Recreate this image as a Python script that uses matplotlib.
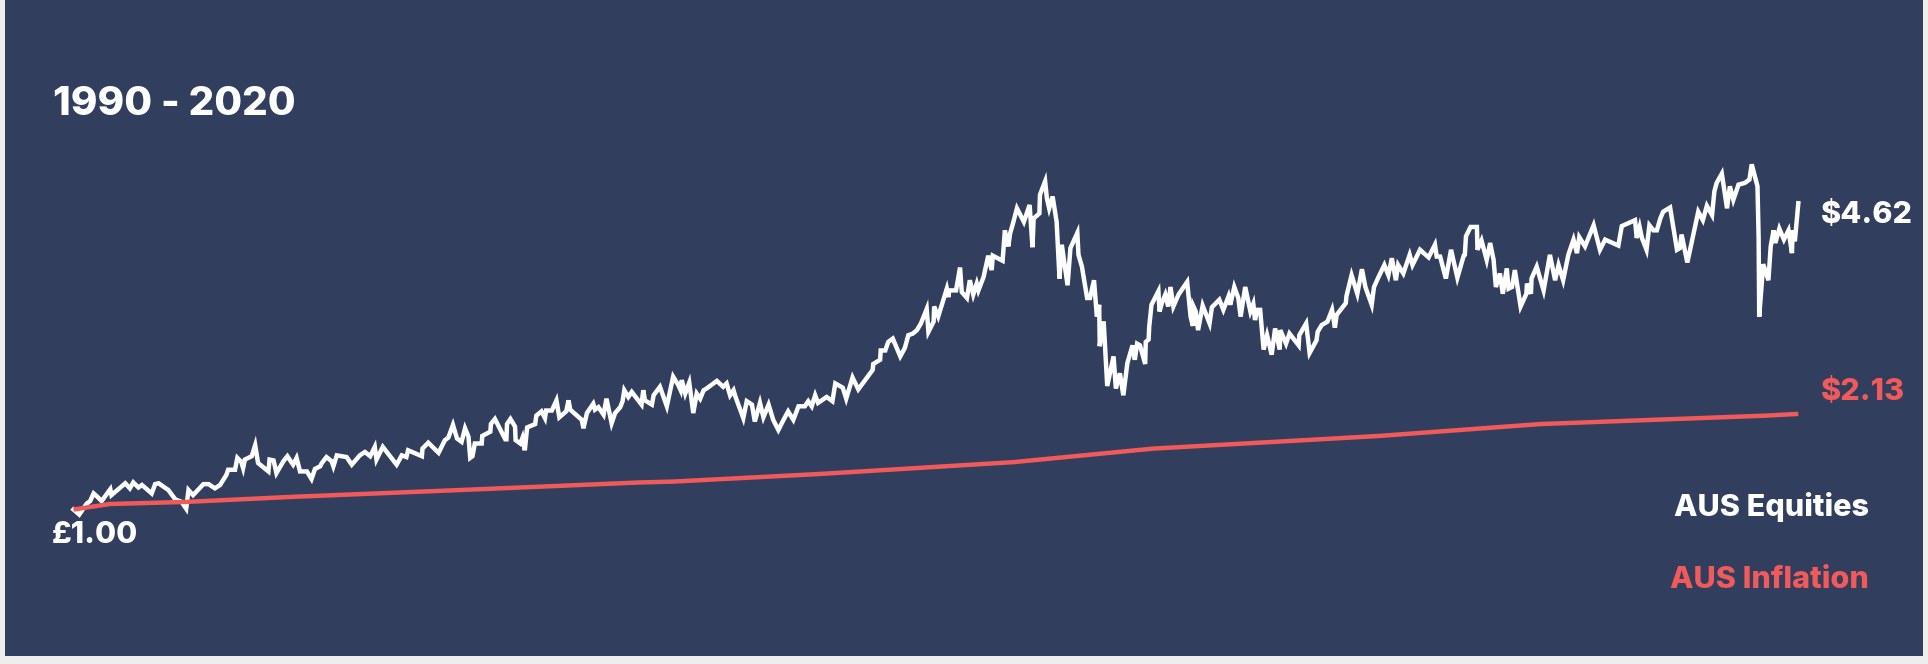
import matplotlib
matplotlib.use("Agg")
import matplotlib.pyplot as plt
from matplotlib.patches import Rectangle

# ---------------- data ----------------
title_text = "1990 - 2020"
start_label = "£1.00"
equity_end_label = "$4.62"
inflation_end_label = "$2.13"
series_names = ["AUS Equities", "AUS Inflation"]

eq_years_a = [1990.00, 1990.10, 1990.23, 1990.29, 1990.35, 1990.40, 1990.49, 1990.64, 1990.66, 1990.90,
              1990.98, 1991.04, 1991.13, 1991.19, 1991.36, 1991.42, 1991.48, 1991.65, 1991.77, 1991.88,
              1991.96, 1992.00, 1992.08, 1992.26, 1992.35, 1992.46, 1992.55, 1992.66, 1992.69, 1992.81,
              1992.85, 1992.92, 1992.95, 1992.98, 1993.10, 1993.16, 1993.19, 1993.21, 1993.39, 1993.41,
              1993.48, 1993.53, 1993.65, 1993.72, 1993.82, 1993.88, 1993.94, 1994.06, 1994.14, 1994.20,
              1994.29, 1994.32, 1994.40, 1994.49, 1994.52, 1994.58, 1994.75, 1994.84, 1994.98, 1995.07,
              1995.16, 1995.24, 1995.27, 1995.38, 1995.62, 1995.71, 1995.79, 1995.82, 1996.06, 1996.07,
              1996.17, 1996.35]
eq_vals_a = [1.00, 0.94, 1.07, 1.10, 1.19, 1.16, 1.10, 1.24, 1.17, 1.31,
             1.25, 1.32, 1.26, 1.29, 1.19, 1.30, 1.31, 1.23, 1.12, 1.09,
             1.01, 1.23, 1.17, 1.30, 1.30, 1.25, 1.29, 1.41, 1.47, 1.47,
             1.61, 1.56, 1.49, 1.59, 1.63, 1.76, 1.63, 1.55, 1.45, 1.59,
             1.58, 1.43, 1.57, 1.63, 1.53, 1.61, 1.45, 1.45, 1.36, 1.48,
             1.51, 1.55, 1.62, 1.57, 1.51, 1.64, 1.62, 1.53, 1.64, 1.68,
             1.63, 1.74, 1.59, 1.74, 1.53, 1.64, 1.62, 1.70, 1.63, 1.72,
             1.79, 1.67]

eq_years_b = [1996.46, 1996.52, 1996.60, 1996.67, 1996.75, 1996.81, 1996.87, 1996.90, 1996.94, 1996.98,
              1997.10, 1997.11, 1997.25, 1997.26, 1997.33, 1997.51, 1997.53, 1997.54, 1997.60, 1997.68,
              1997.69, 1997.77, 1997.81, 1997.85, 1997.89, 1998.03, 1998.05, 1998.14, 1998.20, 1998.22,
              1998.32, 1998.40, 1998.45, 1998.57, 1998.61, 1998.64, 1998.84, 1998.87, 1998.93, 1999.04,
              1999.07, 1999.13, 1999.22, 1999.27, 1999.36, 1999.42, 1999.51, 1999.55, 1999.58, 1999.65,
              1999.71, 1999.88, 1999.91, 1999.94, 2000.06, 2000.09, 2000.20, 2000.32, 2000.43, 2000.52,
              2000.56, 2000.58, 2000.64, 2000.71, 2000.78, 2000.84, 2000.90, 2000.96, 2001.01, 2001.19,
              2001.30, 2001.36, 2001.42, 2001.48, 2001.51, 2001.65, 2001.71, 2001.80, 2001.85, 2001.94,
              2002.00, 2002.09, 2002.17, 2002.26, 2002.35, 2002.43, 2002.52, 2002.61, 2002.72, 2002.78,
              2002.84, 2002.90, 2002.95, 2003.10, 2003.20]
eq_vals_b = [1.82, 1.85, 2.00, 1.84, 1.80, 1.96, 1.86, 1.61, 1.63, 1.78,
             1.78, 1.87, 1.92, 2.01, 2.07, 1.83, 1.83, 2.01, 2.07, 1.98,
             1.82, 1.78, 1.85, 1.70, 1.97, 2.01, 2.11, 2.16, 2.08, 2.17,
             2.17, 2.29, 2.09, 2.16, 2.29, 2.18, 2.06, 1.96, 2.14, 2.25,
             2.18, 2.21, 2.12, 2.31, 2.02, 2.14, 2.21, 2.28, 2.41, 2.33,
             2.39, 2.24, 2.41, 2.29, 2.24, 2.35, 2.45, 2.22, 2.57, 2.47,
             2.41, 2.53, 2.37, 2.50, 2.14, 2.37, 2.31, 2.41, 2.43, 2.52,
             2.45, 2.49, 2.35, 2.41, 2.34, 2.08, 2.28, 2.24, 2.04, 2.26,
             2.09, 2.24, 2.06, 1.94, 2.06, 2.16, 2.06, 2.22, 2.22, 2.28,
             2.22, 2.35, 2.26, 2.33, 2.28]

eq_years_c = [2003.25, 2003.38, 2003.44, 2003.55, 2003.65, 2003.90, 2003.91, 2004.03, 2004.04, 2004.12,
              2004.17, 2004.25, 2004.38, 2004.46, 2004.52, 2004.60, 2004.67, 2004.74, 2004.84, 2004.87,
              2004.96, 2004.97, 2005.04, 2005.19, 2005.22, 2005.23, 2005.35, 2005.42, 2005.45, 2005.54,
              2005.59, 2005.65, 2005.71, 2005.74, 2005.83, 2005.91, 2005.97, 2005.99, 2006.16, 2006.20,
              2006.23, 2006.26, 2006.29, 2006.34, 2006.41, 2006.53, 2006.63, 2006.68, 2006.70, 2006.80,
              2006.81, 2006.90, 2006.93, 2006.97, 2007.03, 2007.10, 2007.15, 2007.19, 2007.29, 2007.34,
              2007.46, 2007.48, 2007.54, 2007.63, 2007.68, 2007.75, 2007.80, 2007.84, 2007.85, 2007.90,
              2007.92, 2007.98, 2008.09, 2008.13, 2008.20, 2008.26, 2008.33, 2008.42, 2008.46, 2008.50,
              2008.55, 2008.64, 2008.65, 2008.70, 2008.71, 2008.75, 2008.87, 2008.89, 2008.93, 2008.99,
              2009.04, 2009.08, 2009.13, 2009.22, 2009.37, 2009.43, 2009.47, 2009.48, 2009.52, 2009.56,
              2009.64, 2009.76, 2009.80, 2009.93]
eq_vals_c = [2.49, 2.44, 2.31, 2.56, 2.42, 2.65, 2.72, 2.77, 2.88, 2.88,
             2.98, 3.02, 2.81, 2.91, 3.06, 3.08, 3.12, 3.20, 3.37, 3.10,
             3.22, 3.40, 3.28, 3.61, 3.51, 3.59, 3.59, 3.86, 3.57, 3.50,
             3.71, 3.54, 3.67, 3.59, 3.75, 4.00, 3.83, 4.00, 3.94, 4.30,
             4.19, 4.11, 4.26, 4.38, 4.56, 4.40, 4.60, 4.10, 4.44, 4.50,
             4.72, 4.88, 4.68, 4.56, 4.70, 4.40, 3.73, 4.13, 3.65, 4.09,
             4.27, 4.01, 3.87, 3.50, 3.50, 3.71, 3.28, 3.42, 2.93, 3.20,
             3.20, 2.46, 2.81, 2.43, 2.61, 2.35, 2.73, 2.94, 2.77, 2.96,
             2.94, 2.72, 2.98, 3.01, 3.16, 3.42, 3.58, 3.34, 3.44, 3.54,
             3.40, 3.63, 3.40, 3.54, 3.69, 3.28, 3.17, 3.40, 3.34, 3.12,
             3.41, 3.20, 3.39, 3.48]

eq_years_d = [2010.00, 2010.09, 2010.12, 2010.19, 2010.26, 2010.30, 2010.38, 2010.47, 2010.52, 2010.55,
              2010.59, 2010.64, 2010.70, 2010.76, 2010.84, 2010.90, 2010.98, 2010.99, 2011.09, 2011.15,
              2011.31, 2011.32, 2011.44, 2011.50, 2011.62, 2011.64, 2011.71, 2011.81, 2011.89, 2011.94,
              2011.97, 2012.13, 2012.14, 2012.23, 2012.33, 2012.41, 2012.47, 2012.58, 2012.62, 2012.70,
              2012.80, 2012.87, 2012.93, 2013.00, 2013.04, 2013.13, 2013.24, 2013.29, 2013.42, 2013.57,
              2013.68, 2013.71, 2013.77, 2013.87, 2013.96, 2014.07, 2014.18, 2014.20, 2014.22, 2014.30,
              2014.41, 2014.42, 2014.49, 2014.58, 2014.64, 2014.70, 2014.74, 2014.81, 2014.86, 2014.93,
              2014.96, 2015.02, 2015.07, 2015.17, 2015.27, 2015.28, 2015.35, 2015.36, 2015.45, 2015.57,
              2015.68, 2015.77, 2015.83, 2015.91]
eq_vals_d = [3.36, 3.52, 3.42, 3.63, 3.50, 3.28, 3.63, 3.34, 3.43, 3.24,
             3.36, 3.36, 2.89, 3.06, 2.83, 3.14, 2.89, 3.12, 2.96, 3.08,
             2.94, 3.06, 3.20, 2.85, 3.00, 3.10, 3.18, 3.22, 3.36, 3.15,
             3.30, 3.44, 3.52, 3.77, 3.55, 3.84, 3.63, 3.42, 3.63, 3.75,
             3.89, 3.77, 3.97, 3.71, 3.89, 3.79, 4.01, 3.89, 4.07, 3.98,
             4.13, 3.99, 3.99, 3.73, 4.07, 3.74, 4.00, 4.01, 4.23, 4.34,
             4.34, 4.07, 4.18, 3.95, 4.15, 3.95, 3.63, 3.79, 3.55, 3.85,
             3.61, 3.63, 3.83, 3.40, 3.55, 3.67, 3.55, 3.73, 3.87, 3.59,
             4.01, 3.71, 3.89, 3.71]

eq_years_e = [2016.00, 2016.09, 2016.15, 2016.19, 2016.29, 2016.44, 2016.55, 2016.64, 2016.87, 2016.93,
              2017.16, 2017.19, 2017.24, 2017.28, 2017.36, 2017.41, 2017.48, 2017.54, 2017.60, 2017.65,
              2017.77, 2017.89, 2017.94, 2017.97, 2018.07, 2018.26, 2018.34, 2018.41, 2018.50, 2018.54,
              2018.58, 2018.67, 2018.76, 2018.81, 2018.87, 2018.96, 2019.07, 2019.15, 2019.19, 2019.29,
              2019.31, 2019.32, 2019.39, 2019.48, 2019.52, 2019.57, 2019.60, 2019.67, 2019.75, 2019.83,
              2019.89, 2019.90, 2019.94, 2020.00]
eq_vals_e = [4.01, 4.19, 4.03, 4.22, 4.11, 4.36, 4.07, 4.19, 4.12, 4.35,
             4.42, 4.21, 4.34, 4.21, 4.07, 4.36, 4.30, 4.30, 4.44, 4.52,
             4.57, 4.07, 4.09, 4.25, 3.92, 4.52, 4.42, 4.59, 4.48, 4.76,
             4.86, 4.97, 4.56, 4.82, 4.66, 4.84, 4.86, 4.90, 5.08, 4.82,
             4.21, 3.28, 3.90, 3.71, 4.11, 4.30, 4.15, 4.32, 4.19, 4.30,
             4.03, 4.30, 4.17, 4.62]

infl_years = [1990.00, 1990.63, 1991.97, 1993.82, 1996.72, 1999.86, 2000.43, 2002.98,
              2006.35, 2008.78, 2011.68, 2012.72, 2015.51, 2019.45, 2020.00]
infl_vals = [1.00, 1.065, 1.09, 1.15, 1.23, 1.32, 1.33, 1.42,
             1.56, 1.72, 1.83, 1.87, 2.01, 2.11, 2.13]

eq_years = eq_years_a + eq_years_b + eq_years_c + eq_years_d + eq_years_e
eq_vals = eq_vals_a + eq_vals_b + eq_vals_c + eq_vals_d + eq_vals_e

# ---------------- style ----------------
W, H = 1928, 664
NAVY = "#323E5D"
RED = "#F05A5A"
FONT = ["Inter", "DejaVu Sans"]

fig = plt.figure(figsize=(W / 100, H / 100), dpi=100, facecolor="#EEEEEE")

def fx(px):
    return px / W

def fy(py):
    return 1 - py / H

fig.patches.append(Rectangle((fx(4.5), fy(656)), fx(1923) - fx(4.5), fy(0) - fy(656),
                             transform=fig.transFigure, facecolor=NAVY, edgecolor="none", zorder=-10))

ax = fig.add_axes([0, 0, 1, 1])
ax.set_zorder(1)
ax.set_facecolor("none")
ax.axis("off")
ax.set_xlim(1988.7216, 2022.2559)
ax.set_ylim(-0.8262, 7.0225)

ax.plot(eq_years, eq_vals, color="white", lw=3.2, solid_joinstyle="miter", zorder=3)
ax.plot(infl_years, infl_vals, color=RED, lw=3.2, solid_capstyle="butt", zorder=4)

fig.text(fx(53), fy(115), title_text, color="white", fontsize=29, fontweight="heavy",
         family=FONT, ha="left", va="baseline", zorder=5)
fig.text(fx(52), fy(543), start_label, color="white", fontsize=22, fontweight="heavy",
         family=FONT, ha="left", va="baseline", zorder=5)
fig.text(fx(1821), fy(223), equity_end_label, color="white", fontsize=22, fontweight="heavy",
         family=FONT, ha="left", va="baseline", zorder=5)
fig.text(fx(1821), fy(400), inflation_end_label, color=RED, fontsize=22, fontweight="heavy",
         family=FONT, ha="left", va="baseline", zorder=5)
fig.text(fx(1869), fy(516), series_names[0], color="white", fontsize=22, fontweight="heavy",
         family=FONT, ha="right", va="baseline", zorder=5)
fig.text(fx(1869), fy(588), series_names[1], color=RED, fontsize=22, fontweight="heavy",
         family=FONT, ha="right", va="baseline", zorder=5)

fig.savefig("out.png", dpi=100, facecolor=fig.get_facecolor())
